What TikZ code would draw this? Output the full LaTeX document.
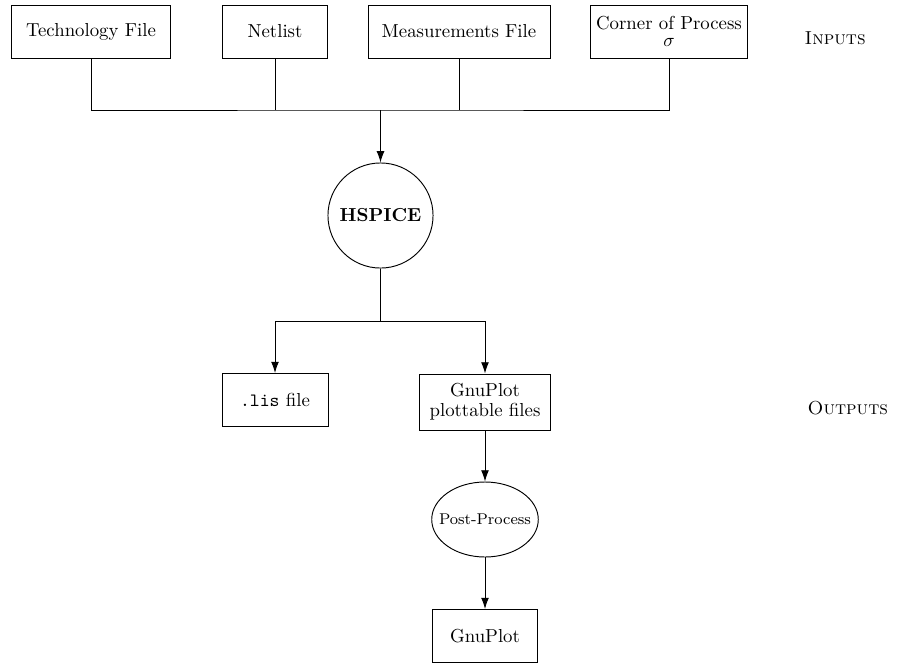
\documentclass[tikz,border=0pt]{standalone}
\usepackage{amsmath, amssymb}
\usepackage{tikz}
\usetikzlibrary{arrows,arrows.meta}
\usetikzlibrary{shapes}
\tikzstyle{filebox}=[draw, rectangle, minimum height=28.2pt, inner sep=2pt, align=center]
\tikzstyle{toolcircle}=[draw, circle, minimum size=55.9pt, inner sep=0pt]
\tikzstyle{toolellipse}=[draw, ellipse, minimum height=39.9pt, inner xsep=-4.4pt, inner ysep=0pt, font=\fontsize{8.3}{10}\selectfont]
\tikzstyle{flow}=[-{Latex[length=6pt,width=4.2pt]}]
\tikzstyle{stage}=[anchor=west]

\begin{document}
\begin{tikzpicture}[x=0.532pt, y=-0.532pt, line width=0.5pt]
	\useasboundingbox (0,0) rectangle (910,663);
	% inputs
	\node[filebox, minimum width=84.6pt] (tech) at (91,31.5) {Technology File};
	\node[filebox, minimum width=55.9pt] (netlist) at (275,31.5) {Netlist};
	\node[filebox, minimum width=96.8pt] (meas) at (459,31.5) {Measurements File};
	\node[filebox, minimum width=83.5pt] (corner) at (669,31.5) {Corner of Process\\[-3pt] $\sigma$};
	\node[stage] (inputs) at (798,38) {\textsc{Inputs}};
	\coordinate (bus) at (380.5,110);
	\draw (tech.south) |- (bus) -| (corner.south);
	\draw (netlist.south) -- (netlist.south |- bus);
	\draw (meas.south) -- (meas.south |- bus);
	% simulator
	\node[toolcircle] (hspice) at (380.5,215.5) {\textbf{HSPICE}};
	\draw[flow] (bus) -- (hspice.north);
	% outputs
	\coordinate (split) at (380.5,321);
	\node[filebox, minimum width=56.4pt] (lis) at (275,400) {\texttt{.lis} file};
	\node[filebox, minimum width=69.2pt, minimum height=29.8pt] (gpfiles) at (485,402) {GnuPlot\\[-1.5pt] plottable files};
	\node[stage] (outputs) at (801,408) {\textsc{Outputs}};
	\draw (hspice.south) -- (split);
	\draw[flow] (split) -| (lis.north);
	\draw[flow] (split) -| (gpfiles.north);
	% post processing
	\node[toolellipse] (post) at (485,519.5) {Post-Process};
	\node[filebox, minimum width=55.9pt] (gnuplot) at (485,636) {GnuPlot};
	\draw[flow] (gpfiles.south) -- (post.north);
	\draw[flow] (post.south) -- (gnuplot.north);
\end{tikzpicture}
\end{document}
